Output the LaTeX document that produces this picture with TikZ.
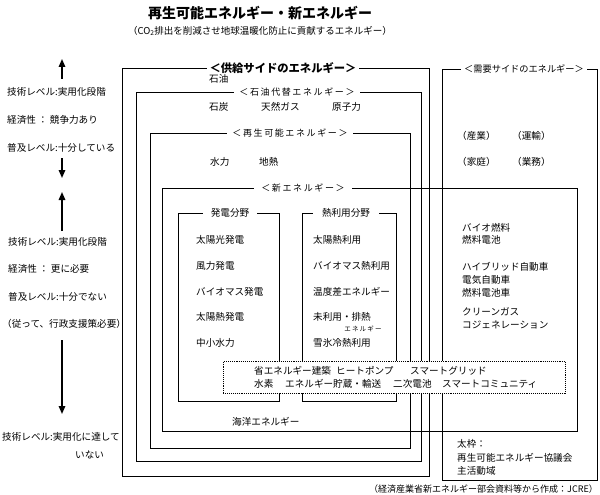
\documentclass[tikz,border=0pt]{standalone}
\usepackage{fontspec}
\setmainfont{Noto Sans CJK JP}
\newfontfamily\spacedfont[LetterSpace=18]{Noto Sans CJK JP}
\usetikzlibrary{arrows.meta,positioning}

\begin{document}
\begin{tikzpicture}[x=1pt, y=-1pt,
  frame/.style={draw, line width=0.9pt, anchor=north west, inner sep=0pt},
  boxtitle/.style={fill=white, inner xsep=5pt, inner ysep=1pt, font=\spacedfont\fontsize{9}{10}\selectfont},
  item/.style={anchor=west, inner sep=0pt, font=\fontsize{9.6}{11}\selectfont},
  small/.style={inner sep=0pt, font=\spacedfont\fontsize{6.5}{7}\selectfont},
  arr/.style={-{Triangle[length=8pt,width=6.5pt]}, line width=1.6pt}]
\useasboundingbox (0,0) rectangle (600,495);

% title
\node[font=\bfseries\fontsize{14}{16}\selectfont, inner sep=0pt] (title) at (260,13) {再生可能エネルギー・新エネルギー};
\node[font=\fontsize{9.5}{11}\selectfont, inner sep=0pt] (subtitle) at (260,31) {（CO\textsubscript{2}排出を削減させ地球温暖化防止に貢献するエネルギー）};

% frames
\node[frame, minimum width=415pt, minimum height=243pt] (new) at (162,188) {};
\node[frame, minimum width=307pt, minimum height=408pt] (supply) at (122,68) {};
\node[frame, minimum width=285pt, minimum height=369pt] (oil) at (136,92) {};
\node[frame, minimum width=260pt, minimum height=315pt] (renew) at (150,133) {};
\node[frame, minimum width=155pt, minimum height=411pt] (demand) at (442,69) {};
\node[frame, minimum width=101pt, minimum height=188pt] (power) at (178,213) {};
\node[frame, minimum width=94pt, minimum height=188pt] (heat) at (302,213) {};
\node[frame, densely dotted, fill=white, minimum width=342pt, minimum height=32pt] (tech) at (223,361) {};

% frame titles
\node[boxtitle, font=\bfseries\fontsize{11.3}{12}\selectfont, inner xsep=3pt] (supplyT) at (283,68) {＜供給サイドのエネルギー＞};
\node[boxtitle] (oilT) at (297,92) {＜石油代替エネルギー＞};
\node[boxtitle] (renewT) at (290,133) {＜再生可能エネルギー＞};
\node[boxtitle, inner xsep=7pt] (newT) at (303,188) {＜新エネルギー＞};
\node[boxtitle, font=\fontsize{9.2}{10}\selectfont, inner xsep=3pt] (demandT) at (524,69) {＜需要サイドのエネルギー＞};
\node[boxtitle, font=\fontsize{9.6}{11}\selectfont, inner xsep=8pt] (powerT) at (230,213) {発電分野};
\node[boxtitle, font=\fontsize{9.6}{11}\selectfont, inner xsep=9pt] (heatT) at (346,213) {熱利用分野};

% supply side items
\node[item] (oilA) at (209,79) {石油};
\node[item] (coal) at (209,107) {石炭};
\node[item] (gas) at (261,107) {天然ガス};
\node[item] (nuclear) at (332,107) {原子力};
\node[item] (hydro) at (210,162) {水力};
\node[item] (geo) at (259,162) {地熱};
\node[item] (ocean) at (232,422) {海洋エネルギー};

\node[item] (pv) at (196,240) {太陽光発電};
\node[item] (wind) at (196,266) {風力発電};
\node[item] (bioP) at (196,292) {バイオマス発電};
\node[item] (solP) at (196,317) {太陽熱発電};
\node[item] (smallH) at (196,343) {中小水力};

\node[item] (solH) at (313,240) {太陽熱利用};
\node[item] (bioH) at (313,266) {バイオマス熱利用};
\node[item] (tempD) at (313,292) {温度差エネルギー};
\node[item] (waste) at (313,317) {未利用・排熱};
\node[small] (wasteE) at (363,329) {エネルギー};
\node[item] (snow) at (313,343) {雪氷冷熱利用};

\node[item] (bldg) at (254,371) {省エネルギー建築};
\node[item] (hpump) at (336,371) {ヒートポンプ};
\node[item] (grid) at (410,371) {スマートグリッド};
\node[item] (hydrogen) at (254,384) {水素};
\node[item] (storage) at (285,384) {エネルギー貯蔵・輸送};
\node[item] (battery) at (393,384) {二次電池};
\node[item] (community) at (442,384) {スマートコミュニティ};

% demand side items
\node[item] (industry) at (457,136) {（産業）};
\node[item] (transport) at (512,136) {（運輸）};
\node[item] (home) at (457,162) {（家庭）};
\node[item] (office) at (512,162) {（業務）};
\node[item] (biofuel) at (462,228) {バイオ燃料};
\node[item] (fcell) at (462,240) {燃料電池};
\node[item] (hybrid) at (462,267) {ハイブリッド自動車};
\node[item] (ev) at (462,280) {電気自動車};
\node[item] (fcv) at (462,293) {燃料電池車};
\node[item] (cleangas) at (462,312) {クリーンガス};
\node[item] (cogen) at (462,325) {コジェネレーション};

\node[item] (legendA) at (457,444) {太枠：};
\node[item] (legendB) at (457,458) {再生可能エネルギー協議会};
\node[item] (legendC) at (457,471) {主活動域};

% left column
\coordinate (up1s) at (62,79);   \coordinate (up1e) at (62,59);
\coordinate (dn1s) at (62,158);  \coordinate (dn1e) at (62,178);
\coordinate (up2s) at (62,231);  \coordinate (up2e) at (62,192);
\coordinate (dn2s) at (62,340);  \coordinate (dn2e) at (62,414);
\draw[arr] (up1s) -- (up1e);
\draw[arr] (dn1s) -- (dn1e);
\draw[arr] (up2s) -- (up2e);
\draw[arr] (dn2s) -- (dn2e);

\node[item] (techA) at (7,92) {技術レベル:実用化段階};
\node[item] (econA) at (7,120) {経済性 ： 競争力あり};
\node[item] (spreadA) at (7,148) {普及レベル:十分している};
\node[item] (techB) at (8,242) {技術レベル:実用化段階};
\node[item] (econB) at (8,269) {経済性 ： 更に必要};
\node[item] (spreadB) at (8,297) {普及レベル:十分でない};
\node[item] (policy) at (2,324) {（従って、行政支援策必要）};
\node[item] (techC) at (2,437) {技術レベル:実用化に達して};
\node[item] (techC2) at (75,455) {いない};

% source
\node[item, anchor=east, font=\fontsize{9}{10}\selectfont] (source) at (598,489) {（経済産業省新エネルギー部会資料等から作成：JCRE）};
\end{tikzpicture}
\end{document}
